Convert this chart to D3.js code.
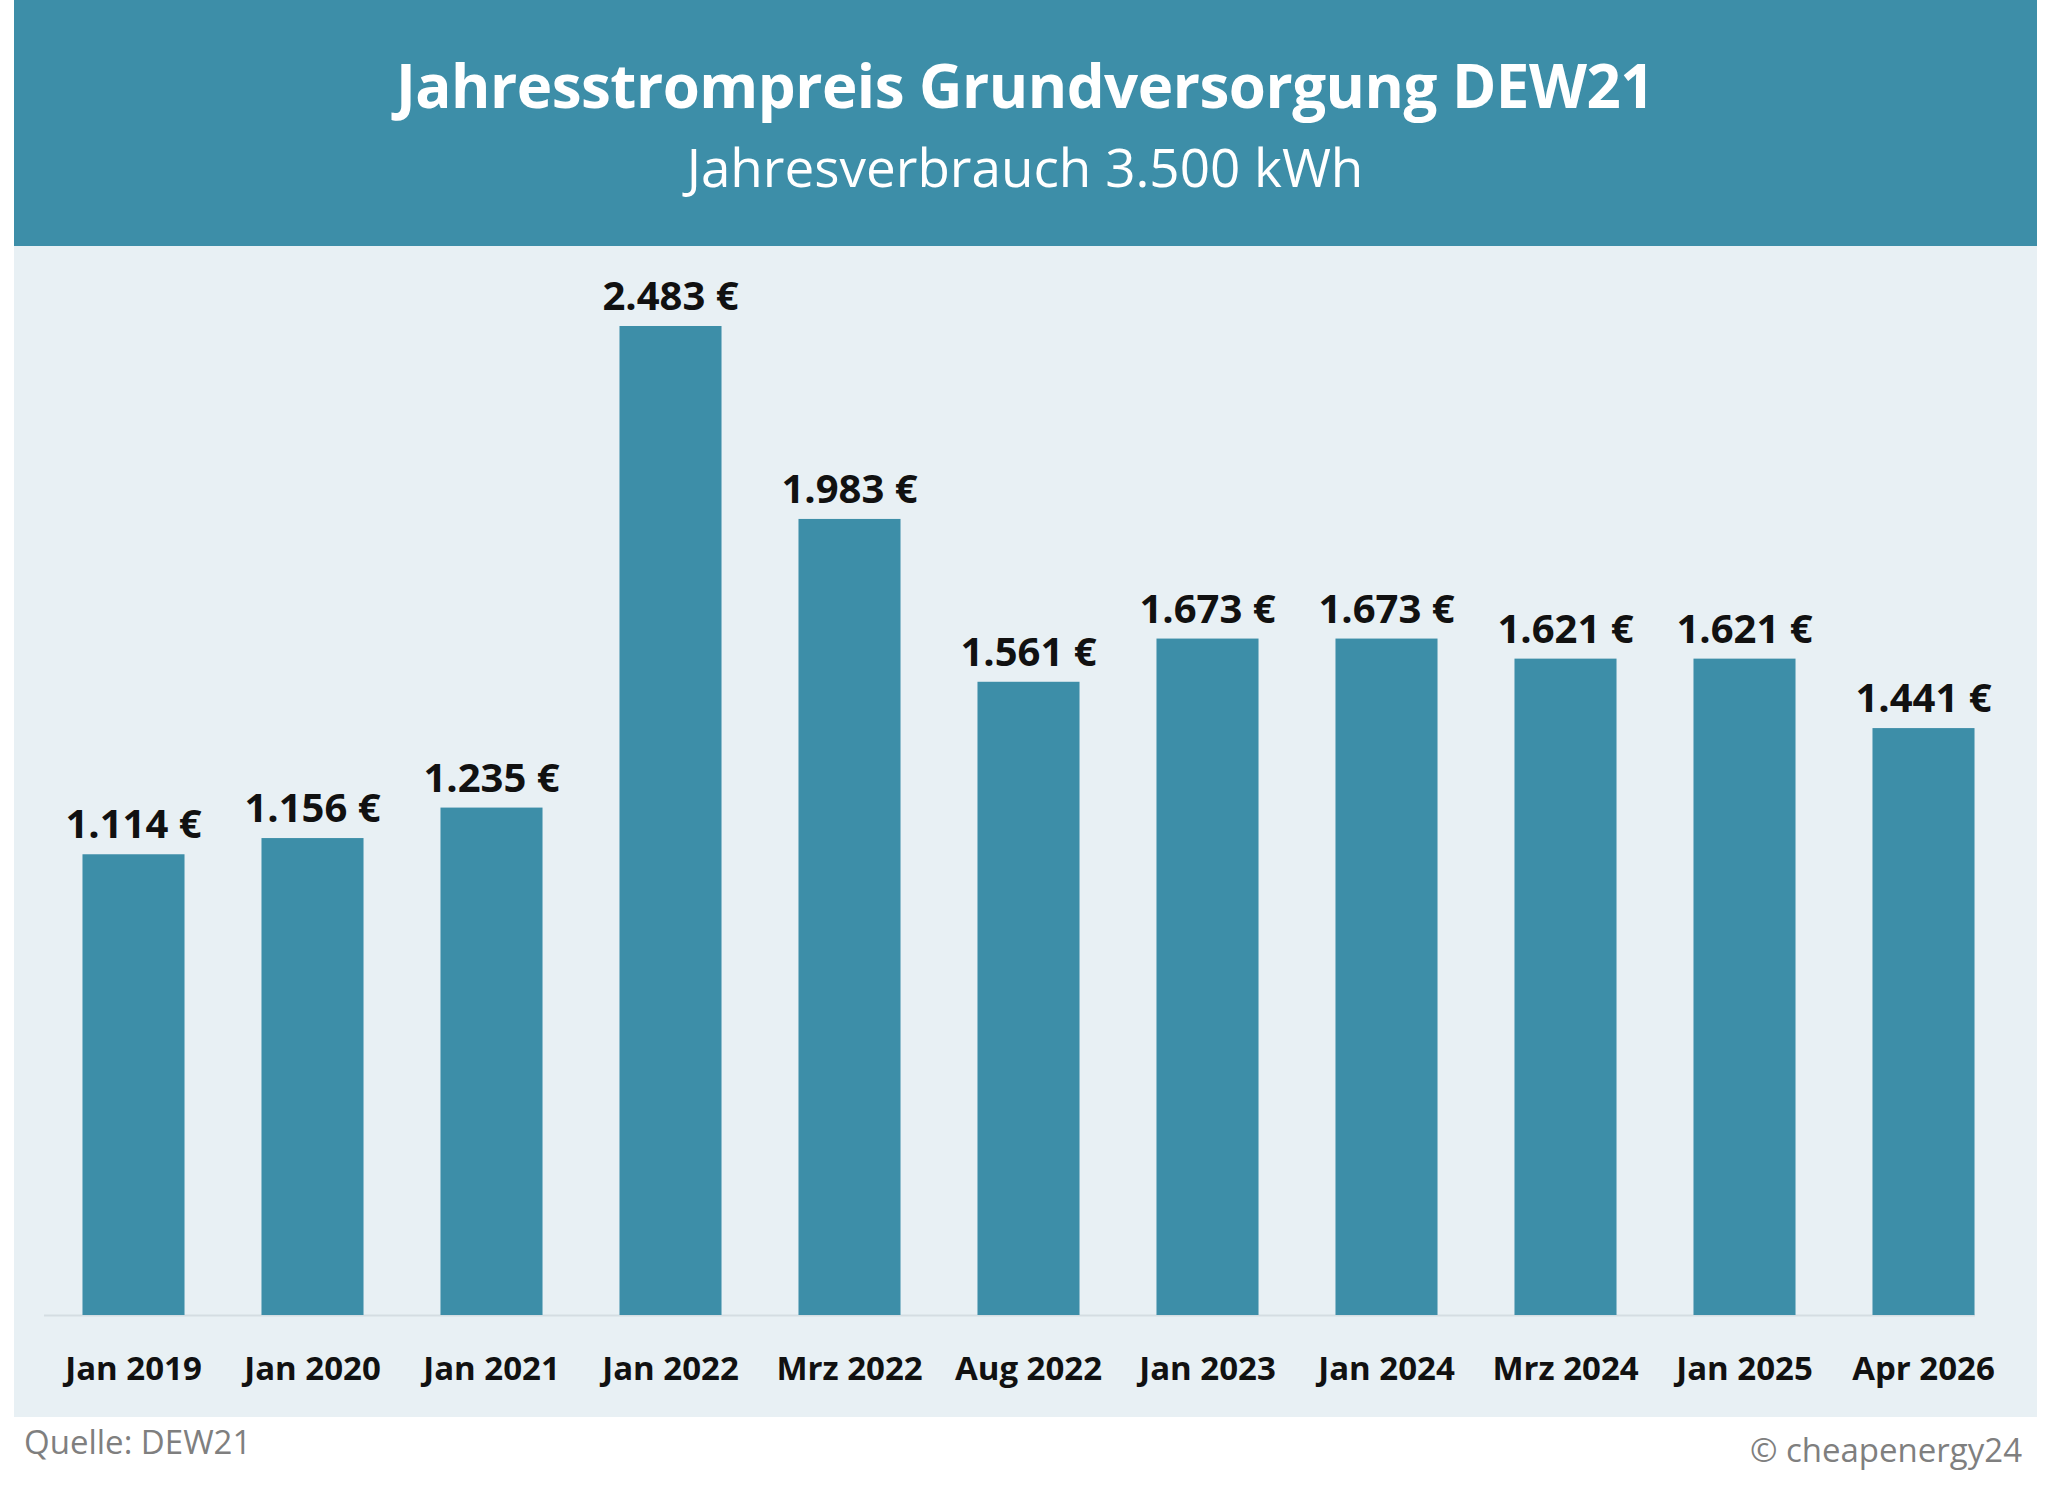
<!DOCTYPE html>
<html><head><meta charset="utf-8">
<script src="https://cdn.jsdelivr.net/npm/d3@7"></script>
<style>body{margin:0;background:#fff}svg{display:block}text{font-family:"Open Sans",sans-serif}</style>
</head><body><div id="chart"></div>
<script>
const categories = ["Jan 2019","Jan 2020","Jan 2021","Jan 2022","Mrz 2022","Aug 2022","Jan 2023","Jan 2024","Mrz 2024","Jan 2025","Apr 2026"];
const values = [1114,1156,1235,2483,1983,1561,1673,1673,1621,1621,1441];

const W = 2048, H = 1497;
const svg = d3.select("#chart").append("svg").attr("width", W).attr("height", H);

// panel + header
svg.append("rect").attr("x", 14).attr("y", 246).attr("width", 2023).attr("height", 1171).attr("fill", "#e8f0f4");
svg.append("rect").attr("x", 14).attr("y", 0).attr("width", 2023).attr("height", 246).attr("fill", "#3d8ea8");
svg.append("text").attr("x", 1025).attr("y", 108).attr("text-anchor", "middle")
  .attr("fill", "#fff").attr("font-size", 60).attr("font-weight", "bold").attr("letter-spacing", -0.5)
  .text("Jahresstrompreis Grundversorgung DEW21");
svg.append("text").attr("x", 1025).attr("y", 187).attr("text-anchor", "middle")
  .attr("fill", "#fff").attr("font-size", 53).attr("font-weight", 400).text("Jahresverbrauch 3.500 kWh");

const x = d3.scaleBand().domain(categories).range([44, 2013]).paddingInner(0.43).paddingOuter(0.215);
// value axis starts slightly below zero, like the source chart
const y = d3.scaleLinear().domain([-80, 2483]).range([1315, 326]);

svg.append("line").attr("x1", 44).attr("x2", 1975).attr("y1", 1315.5).attr("y2", 1315.5)
  .attr("stroke", "#d4dde2").attr("stroke-width", 2);

svg.selectAll("rect.bar").data(values).enter().append("rect").attr("class", "bar")
  .attr("x", (d, i) => x(categories[i])).attr("width", x.bandwidth())
  .attr("y", d => y(d)).attr("height", d => 1315 - y(d)).attr("fill", "#3d8ea8");

const fmt = d3.formatLocale({decimal: ",", thousands: ".", grouping: [3], currency: ["", " €"]}).format(",");
svg.selectAll("text.val").data(values).enter().append("text").attr("class", "val")
  .attr("x", (d, i) => x(categories[i]) + x.bandwidth() / 2).attr("y", d => y(d) - 16)
  .attr("text-anchor", "middle").attr("font-size", 40).attr("font-weight", "bold").attr("fill", "#111")
  .text(d => fmt(d) + " €");

svg.selectAll("text.cat").data(categories).enter().append("text").attr("class", "cat")
  .attr("x", d => x(d) + x.bandwidth() / 2).attr("y", 1380)
  .attr("text-anchor", "middle").attr("font-size", 33).attr("font-weight", "bold").attr("fill", "#111")
  .text(d => d);

svg.append("text").attr("x", 24).attr("y", 1454).attr("font-size", 33).attr("fill", "#7f7f7f").text("Quelle: DEW21");
svg.append("text").attr("x", 2022).attr("y", 1462).attr("text-anchor", "end").attr("font-size", 33).attr("fill", "#7f7f7f").text("© cheapenergy24");
</script></body></html>
